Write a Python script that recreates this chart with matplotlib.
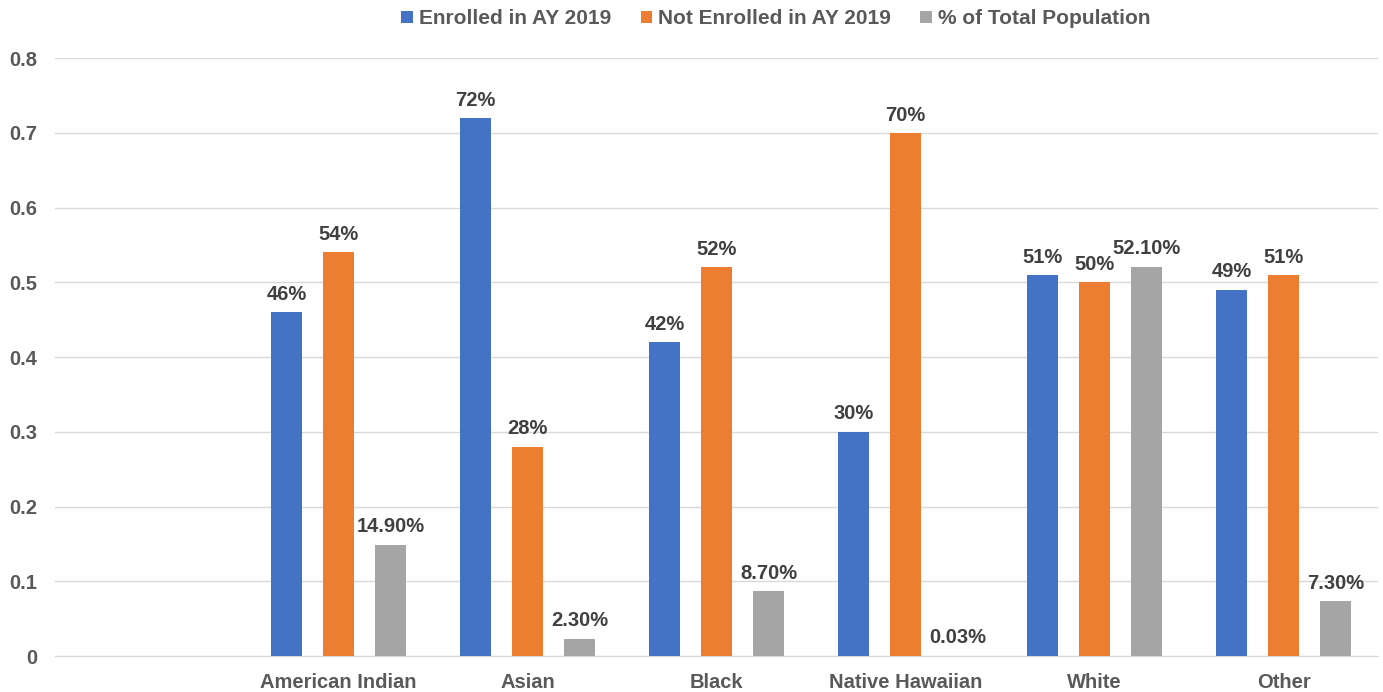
import matplotlib
matplotlib.use("Agg")
import matplotlib.pyplot as plt
import numpy as np

categories = ["", "American Indian", "Asian", "Black", "Native Hawaiian", "White", "Other"]
enrolled = [np.nan, 0.46, 0.72, 0.42, 0.30, 0.51, 0.49]
not_enrolled = [np.nan, 0.54, 0.28, 0.52, 0.70, 0.50, 0.51]
pct_total = [np.nan, 0.149, 0.023, 0.087, 0.0003, 0.521, 0.073]
enrolled_labels = ["", "46%", "72%", "42%", "30%", "51%", "49%"]
not_enrolled_labels = ["", "54%", "28%", "52%", "70%", "50%", "51%"]
pct_total_labels = ["", "14.90%", "2.30%", "8.70%", "0.03%", "52.10%", "7.30%"]
series_names = ["Enrolled in AY 2019", "Not Enrolled in AY 2019", "% of Total Population"]
yticks = [0, 0.1, 0.2, 0.3, 0.4, 0.5, 0.6, 0.7, 0.8]

plt.rcParams['font.family'] = ['Liberation Sans', 'DejaVu Sans']
txt = '#595959'
lbl = '#404040'
colors = ['#4472C4', '#ED7D31', '#A5A5A5']

fig = plt.figure(figsize=(13.83, 6.92), dpi=100)
ax = fig.add_axes([0.0398, 0.052, 0.9566, 0.864])

x = np.arange(len(categories))
off = 0.275
w = 0.164
series = [enrolled, not_enrolled, pct_total]
labels = [enrolled_labels, not_enrolled_labels, pct_total_labels]
for i, (vals, labs, c, name) in enumerate(zip(series, labels, colors, series_names)):
    pos = x + (i - 1) * off
    bars = ax.bar(pos, vals, width=w, color=c, label=name, zorder=3)
    for p, v, l in zip(pos, vals, labs):
        if l:
            ax.annotate(l, (p, v), xytext=(0, 6), textcoords='offset points',
                        ha='center', va='bottom', fontsize=14.5, fontweight='bold', color=lbl)

ax.set_xlim(-0.5, len(categories) - 0.5)
ax.set_ylim(0, 0.8)
ax.set_yticks(yticks)
ax.set_yticklabels([f"{t:g}" for t in yticks])
ax.set_xticks(x)
ax.set_xticklabels(categories)
ax.grid(axis='y', color='#d9d9d9', linewidth=1, zorder=0)
for s in ['top', 'right', 'left']:
    ax.spines[s].set_visible(False)
ax.spines['bottom'].set_color('#d9d9d9')
ax.tick_params(axis='both', length=0, colors=txt, labelsize=14.5)
ax.tick_params(axis='y', pad=13)
ax.tick_params(axis='x', pad=12)
for lab in ax.get_xticklabels() + ax.get_yticklabels():
    lab.set_fontweight('bold')

leg = ax.legend(loc='center', bbox_to_anchor=(776 / 1383, 1 - 19 / 692), bbox_transform=fig.transFigure,
                ncol=3, frameon=False, fontsize=15, handlelength=0.55, handleheight=0.55,
                handletextpad=0.3, columnspacing=1.4)
for t in leg.get_texts():
    t.set_color(txt)
    t.set_fontweight('bold')

fig.savefig('out.png', dpi=100)
